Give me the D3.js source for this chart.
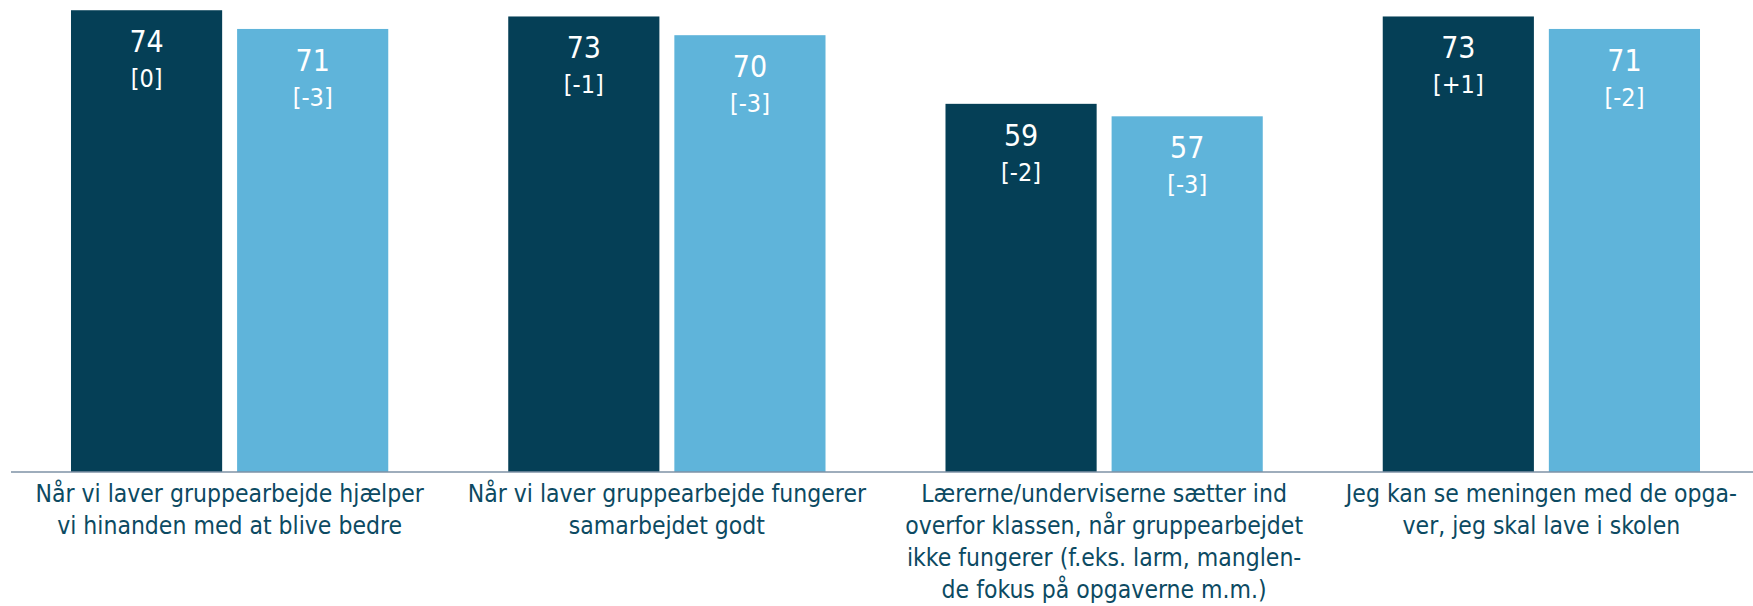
<!DOCTYPE html>
<html>
<head>
<meta charset="utf-8">
<script src="https://cdn.jsdelivr.net/npm/d3@7"></script>
<style>
  html, body { margin: 0; padding: 0; background: #ffffff; }
  svg { display: block; }
</style>
</head>
<body>
<svg id="chart" width="1753" height="606"></svg>
<script>
// Category labels, pre-broken into lines
const categories = [
  ["Når vi laver gruppearbejde hjælper", "vi hinanden med at blive bedre"],
  ["Når vi laver gruppearbejde fungerer", "samarbejdet godt"],
  ["Lærerne/underviserne sætter ind", "overfor klassen, når gruppearbejdet", "ikke fungerer (f.eks. larm, manglen-", "de fokus på opgaverne m.m.)"],
  ["Jeg kan se meningen med de opga-", "ver, jeg skal lave i skolen"]
];
const seriesNames = ["A", "B"];
const seriesA = [74, 73, 59, 73];
const seriesB = [71, 70, 57, 71];
const changeA = ["[0]", "[-1]", "[-2]", "[+1]"];
const changeB = ["[-3]", "[-3]", "[-3]", "[-2]"];

const colors = { A: "#053f56", B: "#5fb4da" };
const textColor = "#0c4a62";
const fontFamily = "Tahoma, 'DejaVu Sans Condensed', 'DejaVu Sans', sans-serif";

const svg = d3.select("#chart");
const baseY = 472;

const x0 = d3.scaleBand()
  .domain(d3.range(categories.length))
  .range([11, 1760])
  .paddingInner(0.2744)
  .paddingOuter(0.1372);

const x1 = d3.scaleBand()
  .domain(seriesNames)
  .range([0, x0.bandwidth()])
  .paddingInner(0.09);

const y = d3.scaleLinear().domain([0, 75.64]).range([baseY, 0]);

const rows = categories.map((c, i) => ({
  i,
  bars: [
    { key: "A", value: seriesA[i], change: changeA[i] },
    { key: "B", value: seriesB[i], change: changeB[i] }
  ]
}));

const groups = svg.selectAll("g.group")
  .data(rows)
  .join("g")
  .attr("class", "group")
  .attr("transform", d => `translate(${x0(d.i)},0)`);

const bars = groups.selectAll("g.bar")
  .data(d => d.bars)
  .join("g")
  .attr("class", "bar");

bars.append("rect")
  .attr("x", d => x1(d.key))
  .attr("y", d => y(d.value))
  .attr("width", x1.bandwidth())
  .attr("height", d => baseY - y(d.value))
  .attr("fill", d => colors[d.key]);

bars.append("text")
  .attr("x", d => x1(d.key) + x1.bandwidth() / 2)
  .attr("y", d => y(d.value) + 42)
  .attr("text-anchor", "middle")
  .attr("fill", "#ffffff")
  .style("font-family", fontFamily)
  .style("font-size", "30px")
  .text(d => d.value);

bars.append("text")
  .attr("x", d => x1(d.key) + x1.bandwidth() / 2)
  .attr("y", d => y(d.value) + 77)
  .attr("text-anchor", "middle")
  .attr("fill", "#ffffff")
  .style("font-family", fontFamily)
  .style("font-size", "25px")
  .text(d => d.change);

// Baseline axis
const xAxis = d3.axisBottom(x0).tickSize(0).tickFormat("");
const axisG = svg.append("g")
  .attr("transform", `translate(0,${baseY})`)
  .call(xAxis);
axisG.select(".domain")
  .attr("stroke", "#7e92a6")
  .attr("stroke-width", 1.6)
  .attr("d", `M11,0H1753`);

// Category labels
svg.selectAll("text.cat")
  .data(rows)
  .join("text")
  .attr("class", "cat")
  .attr("text-anchor", "middle")
  .attr("fill", textColor)
  .style("font-family", fontFamily)
  .style("font-size", "24.5px")
  .each(function(d) {
    const cx = x0(d.i) + x0.bandwidth() / 2;
    d3.select(this).selectAll("tspan")
      .data(categories[d.i])
      .join("tspan")
      .attr("x", cx)
      .attr("y", (l, k) => 502 + k * 32)
      .text(l => l);
  });
</script>
</body>
</html>
